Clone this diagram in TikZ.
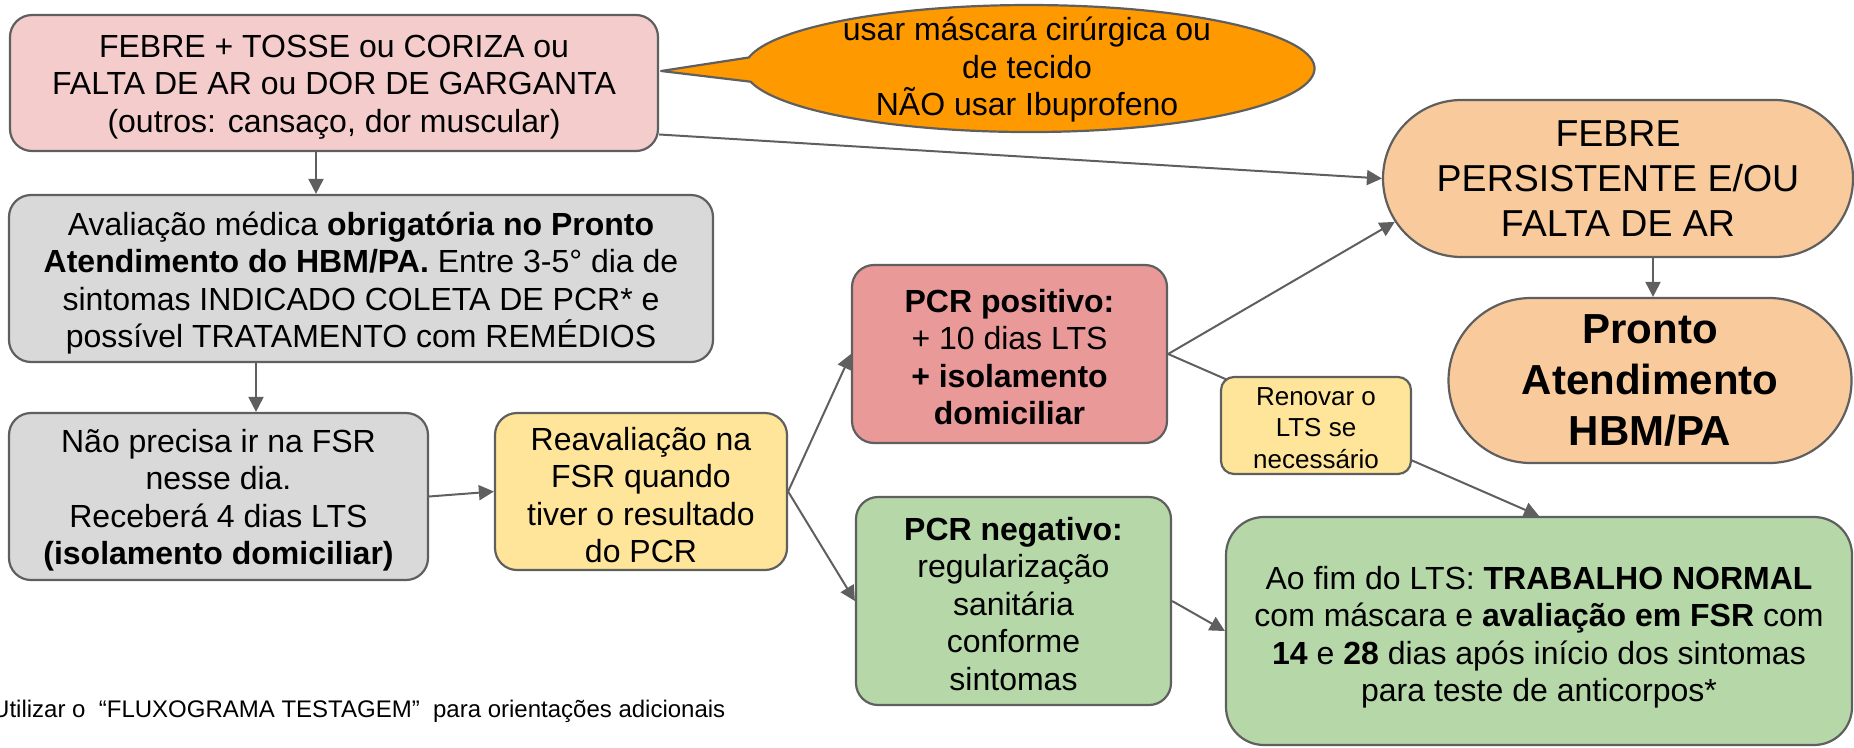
\documentclass[tikz,border=0pt]{standalone}
\usepackage{fontspec}
\setmainfont{Liberation Sans}
\usetikzlibrary{arrows.meta,shapes.misc,calc}
\definecolor{bordc}{HTML}{5F5F5F}
\definecolor{cpink}{HTML}{F4CCCC}
\definecolor{corange}{HTML}{FF9900}
\definecolor{cpeach}{HTML}{F9CB9C}
\definecolor{cgray}{HTML}{D9D9D9}
\definecolor{cyellow}{HTML}{FFE599}
\definecolor{cred}{HTML}{EA9999}
\definecolor{cgreen}{HTML}{B6D7A8}
\newcommand{\setfs}[2]{\fontsize{#1}{#2}\selectfont}
\begin{document}
\begin{tikzpicture}[x=1pt,y=-1pt,
  box/.style={draw=bordc, line width=2.2pt, rounded corners=22pt, align=center, inner sep=0pt, font=\setfs{32}{37.5}},
  txt/.style={align=center, inner sep=0pt, font=\setfs{32}{37.5}},
  stadium/.style={draw=bordc, line width=2.2pt, rounded rectangle, align=center, inner sep=0pt, fill=cpeach},
  arr/.style={draw=bordc, line width=2pt, -{Triangle[length=15pt,width=15pt]}},
  plain/.style={draw=bordc, line width=2pt}]
\useasboundingbox (0,0) rectangle (1854,747);

% nodes
\node[box, fill=cpink, minimum width=648, minimum height=136] (pink) at (334,83) {};
\node[txt] (pinkt) at (334,87)
  {FEBRE + TOSSE ou CORIZA ou\\FALTA DE AR ou DOR DE GARGANTA\\(outros: cansaço, dor muscular)};

\node[box, fill=cgray, minimum width=704, minimum height=167] (gray1) at (361,278.5) {};
\node[txt] (gray1t) at (361,283)
  {Avaliação médica \textbf{obrigatória no Pronto}\\\textbf{Atendimento do HBM/PA.} Entre 3-5° dia de\\sintomas INDICADO COLETA DE PCR* e\\possível TRATAMENTO com REMÉDIOS};

\node[box, fill=cgray, minimum width=419, minimum height=167] (gray2) at (218.5,496.5) {};
\node[txt] (gray2t) at (218.5,500)
  {Não precisa ir na FSR\\nesse dia.\\Receberá 4 dias LTS\\\textbf{(isolamento domiciliar)}};

\node[box, fill=cyellow, minimum width=292, minimum height=157] (reav) at (641,491.5) {};
\node[txt] (reavt) at (641,495)
  {Reavaliação na\\FSR quando\\tiver o resultado\\do PCR};

\node[box, fill=cred, minimum width=315, minimum height=178] (pos) at (1009.5,354) {};
\node[txt] (post) at (1009.5,357)
  {\textbf{PCR positivo:}\\+ 10 dias LTS\\\textbf{+ isolamento}\\\textbf{domiciliar}};

\node[box, fill=cgreen, minimum width=315, minimum height=208] (neg) at (1013.5,601) {};
\node[txt] (negt) at (1013.5,604)
  {\textbf{PCR negativo:}\\regularização\\sanitária\\conforme\\sintomas};

\node[box, fill=cgreen, minimum width=626, minimum height=228, rounded corners=38pt] (fim) at (1539,631) {};
\node[txt] (fimt) at (1539,637)
  {Ao fim do LTS: \textbf{TRABALHO NORMAL}\\com máscara e \textbf{avaliação em FSR} com\\\textbf{14} e \textbf{28} dias após início dos sintomas\\para teste de anticorpos*};

\node[stadium, minimum width=470, minimum height=157, font=\setfs{37.5}{45}] (stad) at (1618,178.5)
  {FEBRE\\PERSISTENTE E/OU\\FALTA DE AR};

\node[stadium, minimum width=403, minimum height=165, font=\setfs{42}{51}\bfseries] (pronto) at (1650,380.5)
  {Pronto\\Atendimento\\HBM/PA};

% callout
\coordinate (tip) at ($(pink.east)+(2,-12)$);
\path[fill=corange, draw=bordc, line width=2.2pt, line join=round]
  (tip) -- (748.8,57.5) arc[start angle=170, end angle=-168, x radius=285pt, y radius=63.5pt] -- cycle;
\node[txt] (callout) at (1027,70)
  {usar máscara cirúrgica ou\\de tecido\\NÃO usar Ibuprofeno};

% connectors
\coordinate (xa) at (316,0);
\coordinate (xb) at (256,0);
\coordinate (xc) at (1653,0);
\draw[arr] (pink.south -| xa) -- (gray1.north -| xa);
\draw[arr] (gray1.south -| xb) -- (gray2.north -| xb);
\draw[arr] (gray2.east) -- (reav.west);
\draw[arr] (reav.east) -- (pos.west);
\draw[arr] (reav.east) -- (neg.west);
\draw[arr] (pink.-9.6) -- (stad.west);
\draw[arr] (pos.east) -- (stad.191);
\draw[arr] (stad.south -| xc) -- (pronto.north -| xc);
\draw[arr] (pos.east) -- (fim.north);
\draw[arr] (neg.east) -- (fim.west);

\node[box, fill=cyellow, minimum width=190, minimum height=97, rounded corners=13pt] (renov) at (1316,425.5) {};
\node[txt, font=\setfs{26}{31.5}] (renovt) at (1316,428)
  {Renovar o\\LTS se\\necessário};

% footnote
\node[anchor=base west, inner sep=0pt, font=\setfs{24}{28}] (note) at (-8,717)
  {Utilizar o\ \ “FLUXOGRAMA TESTAGEM”\ \ para orientações adicionais};
\end{tikzpicture}
\end{document}
